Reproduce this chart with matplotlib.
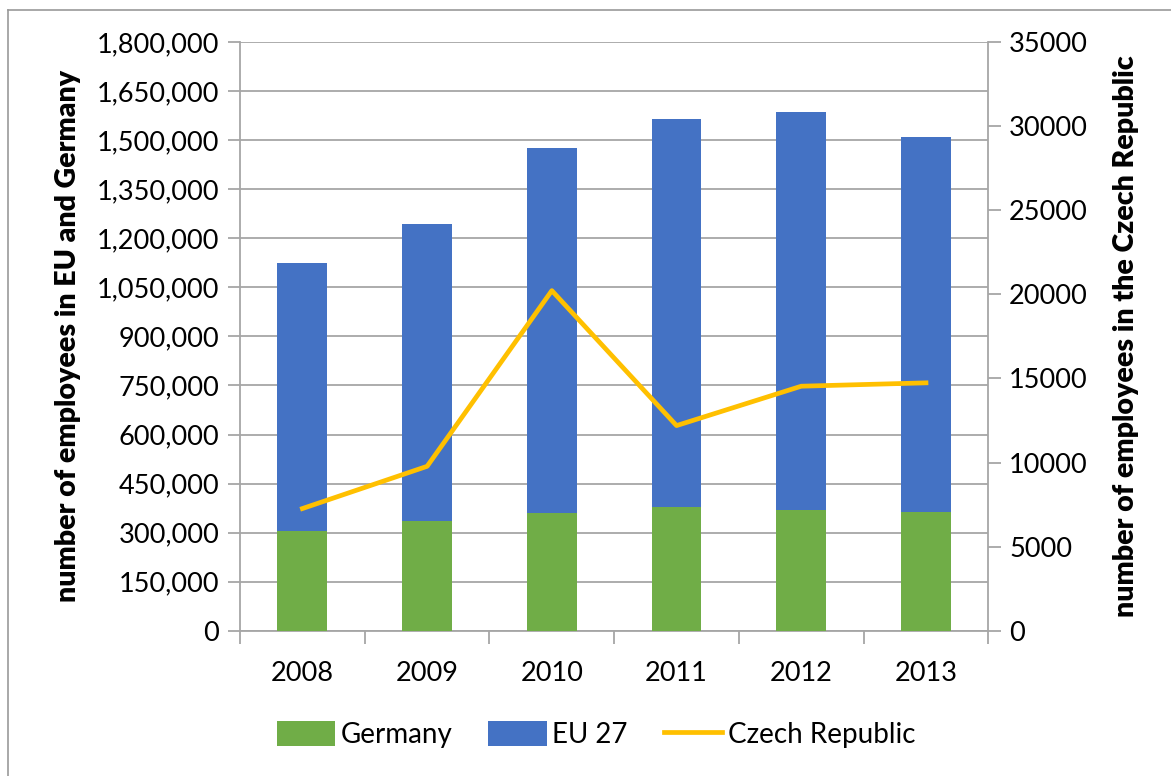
import matplotlib
matplotlib.use("Agg")
import matplotlib.pyplot as plt
from matplotlib.lines import Line2D
from matplotlib.ticker import FuncFormatter, MultipleLocator, FixedLocator

plt.rcParams['font.family'] = ['Lato', 'DejaVu Sans']

# data
years = ['2008', '2009', '2010', '2011', '2012', '2013']
eu27 = [1125000, 1244000, 1476000, 1565000, 1586000, 1510000]
germany = [306000, 336000, 361000, 379000, 370000, 364000]
czech = [7270, 9780, 20220, 12200, 14540, 14740]

GREEN = '#70AD47'
BLUE = '#4472C4'
GOLD = '#FFC000'
GRID = '#A6A6A6'
TICKSIZE = 19.5
LABELSIZE = 20.5

fig = plt.figure(figsize=(11.71, 7.76), dpi=100)
ax = fig.add_axes([0.205, 0.187, 0.639, 0.759])
x = list(range(len(years)))

ax.bar(x, eu27, width=0.4, color=BLUE, zorder=2, label='EU 27')
ax.bar(x, germany, width=0.4, color=GREEN, zorder=3, label='Germany')

ax.set_ylim(0, 1800000)
ax.set_xlim(-0.5, len(years) - 0.5)
ax.yaxis.set_major_locator(MultipleLocator(150000))
ax.yaxis.set_major_formatter(FuncFormatter(lambda v, p: f'{int(v):,}'))
ax.grid(axis='y', color=GRID, lw=1.3, zorder=0)
ax.set_axisbelow(True)

ax.set_xticks(x)
ax.set_xticklabels(years)
ax.xaxis.set_minor_locator(FixedLocator([i - 0.5 for i in range(len(years) + 1)]))
ax.tick_params(axis='x', which='major', length=0, pad=22, labelsize=TICKSIZE)
ax.tick_params(axis='x', which='minor', length=9, color=GRID, width=1.3)
ax.tick_params(axis='y', length=9, color=GRID, width=1.3, labelsize=TICKSIZE, pad=6)

for s in ['top', 'right']:
    ax.spines[s].set_visible(False)
for s in ['left', 'bottom']:
    ax.spines[s].set_color(GRID)
    ax.spines[s].set_linewidth(1.3)

ax.set_ylabel('number of employees in EU and Germany', fontsize=LABELSIZE,
              fontweight='heavy', labelpad=11)

ax2 = ax.twinx()
ax2.plot(x, czech, color=GOLD, lw=3.4, label='Czech Republic', zorder=5)
ax2.set_ylim(0, 35000)
ax2.yaxis.set_major_locator(MultipleLocator(5000))
ax2.tick_params(axis='y', length=9, color=GRID, width=1.3, labelsize=TICKSIZE, pad=6)
for s in ['top', 'left', 'bottom']:
    ax2.spines[s].set_visible(False)
ax2.spines['right'].set_color(GRID)
ax2.spines['right'].set_linewidth(1.3)
ax2.set_ylabel('number of employees in the Czech Republic', fontsize=LABELSIZE,
               fontweight='heavy', labelpad=18)

h1, l1 = ax.get_legend_handles_labels()
h2, l2 = ax2.get_legend_handles_labels()
handles = [h1[1], h1[0], h2[0]]
labels = [l1[1], l1[0], l2[0]]
fig.legend(handles, labels, loc='center', bbox_to_anchor=(0.509, 0.053),
           ncol=3, frameon=False, fontsize=20, handlelength=2.1,
           handleheight=1.0, handletextpad=0.2, columnspacing=1.3)

# outer chart frame (left and top edges visible)
fig.add_artist(Line2D([0.007, 0.007], [0.0, 0.987], transform=fig.transFigure,
                      color='#999999', lw=1.2))
fig.add_artist(Line2D([0.007, 1.0], [0.987, 0.987], transform=fig.transFigure,
                      color='#999999', lw=1.2))

fig.savefig('out.png', dpi=100)
